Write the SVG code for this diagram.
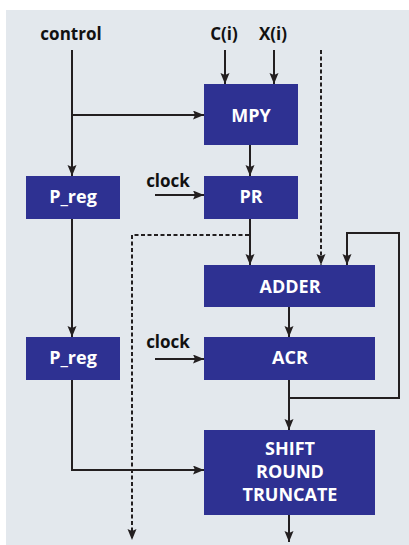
<svg xmlns="http://www.w3.org/2000/svg" width="409" height="545" viewBox="0 0 409 545">
<defs>
<marker id="ah" markerUnits="userSpaceOnUse" markerWidth="12" markerHeight="10" refX="11" refY="4.5" orient="auto">
<path d="M0,0 L11,4.5 L0,9 L2,4.5 z" fill="#231f20"/>
</marker>
<style>
.bg{fill:#e3e8ed}
.box{fill:#2e3192}
.bt{font-family:"Open Sans","Liberation Sans",sans-serif;font-weight:bold;font-size:18px;fill:#ffffff;text-anchor:middle}
.lt{font-family:"Open Sans","Liberation Sans",sans-serif;font-weight:bold;font-size:17px;fill:#111111;text-anchor:middle}
.ln{fill:none;stroke:#231f20;stroke-width:2}
.ds{fill:none;stroke:#231f20;stroke-width:2;stroke-dasharray:4 2.5}
</style>
</defs>
<rect class="bg" x="6" y="10" width="403" height="535"/>
<text class="lt" x="71" y="40">control</text>
<text class="lt" x="224" y="40">C(i)</text>
<text class="lt" x="273" y="40">X(i)</text>
<text class="lt" x="168" y="187">clock</text>
<text class="lt" x="168" y="348">clock</text>
<g id="connectors">
<path class="ln" d="M72,50 V176" marker-end="url(#ah)"/>
<path class="ln" d="M72,115 H204" marker-end="url(#ah)"/>
<path class="ln" d="M225,50 V84" marker-end="url(#ah)"/>
<path class="ln" d="M274,50 V84" marker-end="url(#ah)"/>
<path class="ds" d="M321,50 V265" marker-end="url(#ah)"/>
<path class="ln" d="M250,145 V176" marker-end="url(#ah)"/>
<path class="ln" d="M155,195 H204" marker-end="url(#ah)"/>
<path class="ln" d="M72,219 V337" marker-end="url(#ah)"/>
<path class="ln" d="M250,219 V265" marker-end="url(#ah)"/>
<path class="ds" d="M249,235 H132 V540" marker-end="url(#ah)"/>
<path class="ln" d="M289,398 H399 V233 H347 V265" marker-end="url(#ah)"/>
<path class="ln" d="M289,307 V337" marker-end="url(#ah)"/>
<path class="ln" d="M155,359 H204" marker-end="url(#ah)"/>
<path class="ln" d="M289,380 V430" marker-end="url(#ah)"/>
<path class="ln" d="M72,380 V470 H204" marker-end="url(#ah)"/>
<path class="ln" d="M289,515 V542" marker-end="url(#ah)"/>
</g>
<g id="mpy"><rect class="box" x="204" y="84" width="94" height="61"/><text class="bt" x="251" y="122">MPY</text></g>
<g id="preg1"><rect class="box" x="26" y="176" width="94" height="43"/><text class="bt" x="73" y="203">P_reg</text></g>
<g id="pr"><rect class="box" x="204" y="176" width="94" height="43"/><text class="bt" x="251" y="203">PR</text></g>
<g id="adder"><rect class="box" x="204" y="265" width="171" height="42"/><text class="bt" x="290" y="293">ADDER</text></g>
<g id="preg2"><rect class="box" x="26" y="337" width="94" height="43"/><text class="bt" x="73" y="364">P_reg</text></g>
<g id="acr"><rect class="box" x="204" y="337" width="171" height="43"/><text class="bt" x="290" y="364">ACR</text></g>
<g id="shift"><rect class="box" x="204" y="430" width="171" height="85"/><text class="bt" x="290" y="455">SHIFT</text><text class="bt" x="290" y="478">ROUND</text><text class="bt" x="290" y="501">TRUNCATE</text></g>
</svg>
